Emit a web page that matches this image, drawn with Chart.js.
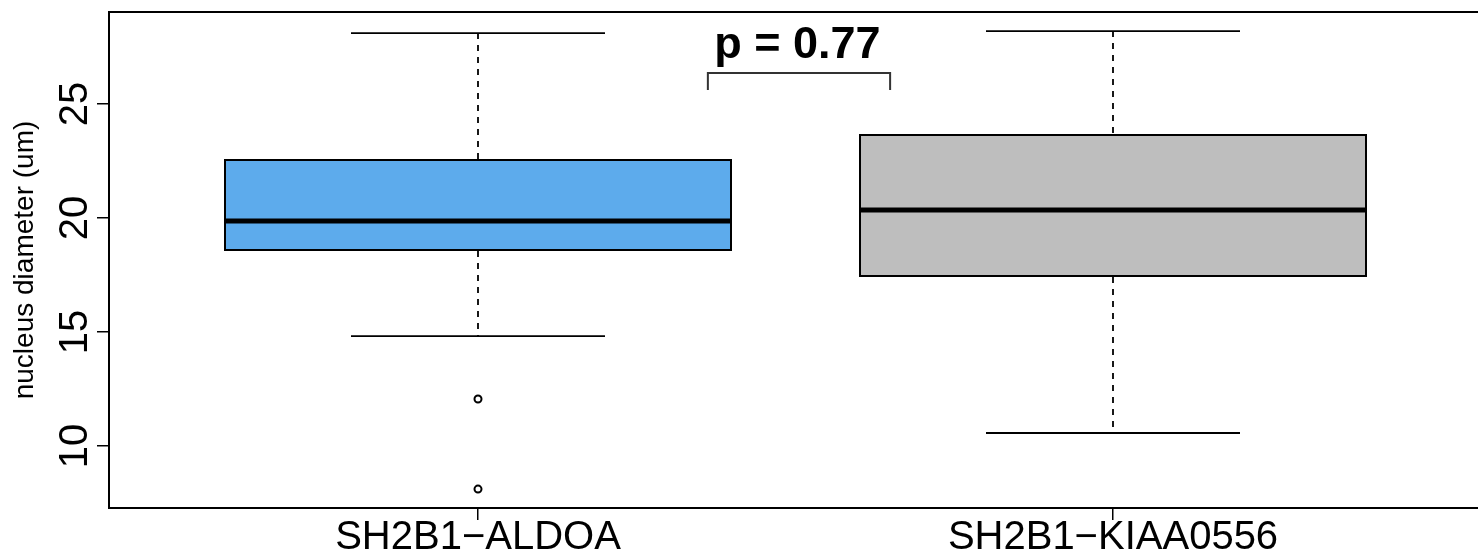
<!DOCTYPE html>
<html>
<head>
<meta charset="utf-8">
<script src="https://cdn.jsdelivr.net/npm/chart.js@4.4.1/dist/chart.umd.min.js"></script>
<style>
  html, body { margin: 0; padding: 0; overflow: hidden; background: #fff; }
  canvas { display: block; }
</style>
</head>
<body>
<canvas id="boxChart" width="1478" height="558"></canvas>
<script>
// groups and box statistics
const categories = ["SH2B1\u2212ALDOA", "SH2B1\u2212KIAA0556"];
const positions = [1, 2];
const whiskerLow = [14.82, 10.57];
const q1 = [18.55, 17.41];
const median = [19.87, 20.35];
const q3 = [22.59, 23.68];
const whiskerHigh = [28.11, 28.2];
const outlierGroup = [1, 1];
const outlierValues = [12.06, 8.11];
const boxColors = ["#5DABEC", "#BEBEBE"];

const yTicks = [10, 15, 20, 25];
const yTitle = "nucleus diameter (um)";

// significance bracket
const bracketX = [1.362, 1.649];
const bracketY = [25.61, 26.36];
const pLabel = "p = 0.77";
const pLabelPos = { x: 1.503, y: 27.02 };

const FONT = "'Liberation Sans', Arial, Helvetica, sans-serif";
const X_MIN = 0.4189, X_MAX = 2.5748;

// whisker segments (dashed) with a gap between the upper and lower part
const whiskerData = [];
const capData = [];
positions.forEach((p, i) => {
    whiskerData.push({ x: p, y: whiskerHigh[i] }, { x: p, y: q3[i] }, { x: p, y: null },
                     { x: p, y: q1[i] }, { x: p, y: whiskerLow[i] }, { x: p, y: null });
    capData.push({ x: p - 0.2, y: whiskerHigh[i] }, { x: p + 0.2, y: whiskerHigh[i] }, { x: p, y: null },
                 { x: p - 0.2, y: whiskerLow[i] }, { x: p + 0.2, y: whiskerLow[i] }, { x: p, y: null });
});
const medianData = [];
positions.forEach((p, i) => {
    medianData.push({ x: p - 0.4, y: median[i] }, { x: p + 0.4, y: median[i] }, { x: p, y: null });
});

// y title, y tick labels (rotated, like R) and the p value text
const labels = {
    id: "labels",
    afterDraw(chart) {
        const { ctx, scales, chartArea } = chart;
        ctx.save();
        ctx.fillStyle = "#000";

        ctx.font = "28px " + FONT;
        ctx.textAlign = "center";
        ctx.textBaseline = "middle";
        ctx.save();
        ctx.translate(25, (chartArea.top + chartArea.bottom) / 2);
        ctx.rotate(-Math.PI / 2);
        ctx.fillText(yTitle, 0, 0);
        ctx.restore();

        ctx.font = "40px " + FONT;
        ctx.textBaseline = "alphabetic";
        scales.y.ticks.forEach(t => {
            const py = scales.y.getPixelForValue(t.value);
            ctx.save();
            ctx.translate(87, py);
            ctx.rotate(-Math.PI / 2);
            ctx.fillText(String(t.value), 0, 0);
            ctx.restore();
        });

        ctx.font = "bold 45px " + FONT;
        ctx.fillText(pLabel, scales.x.getPixelForValue(pLabelPos.x), scales.y.getPixelForValue(pLabelPos.y));
        ctx.restore();
    }
};

const ctx = document.getElementById("boxChart").getContext("2d");
new Chart(ctx, {
    type: "bar",
    data: {
        datasets: [
            { type: "line", data: medianData, borderColor: "#000", borderWidth: 5, pointRadius: 0, order: 0 },
            {
                type: "scatter",
                data: outlierValues.map((v, i) => ({ x: outlierGroup[i], y: v })),
                pointRadius: 3.5,
                pointBorderWidth: 2,
                pointBorderColor: "#000",
                pointBackgroundColor: "#fff",
                order: 1
            },
            {
                type: "line",
                data: [
                    { x: bracketX[0], y: bracketY[0] }, { x: bracketX[0], y: bracketY[1] },
                    { x: bracketX[1], y: bracketY[1] }, { x: bracketX[1], y: bracketY[0] }
                ],
                borderColor: "#333",
                borderWidth: 2,
                pointRadius: 0,
                order: 2
            },
            {
                type: "bar",
                data: positions.map((p, i) => ({ x: p, y: [q1[i], q3[i]] })),
                backgroundColor: boxColors,
                borderColor: "#000",
                borderWidth: 2,
                borderSkipped: false,
                barPercentage: 0.8,
                categoryPercentage: 1,
                order: 3
            },
            { type: "line", data: capData, borderColor: "#000", borderWidth: 1.8, pointRadius: 0, order: 4 },
            {
                type: "line",
                data: whiskerData,
                borderColor: "#000",
                borderWidth: 1.8,
                borderDash: [6, 6],
                pointRadius: 0,
                order: 5
            }
        ]
    },
    options: {
        responsive: false,
        animation: false,
        layout: { autoPadding: false, padding: { top: 12, left: 0, right: 0, bottom: 0 } },
        plugins: {
            legend: { display: false },
            tooltip: { enabled: false }
        },
        scales: {
            x: {
                type: "linear",
                min: X_MIN,
                max: X_MAX,
                offset: false,
                afterBuildTicks: scale => { scale.ticks = positions.map(v => ({ value: v })); },
                afterFit: scale => { scale.height = 50; },
                ticks: {
                    color: "#000",
                    font: { family: FONT, size: 40 },
                    padding: -6,
                    maxRotation: 0,
                    autoSkip: false,
                    callback: (value, index) => categories[index]
                },
                grid: {
                    offset: false,
                    drawOnChartArea: false,
                    tickLength: 12,
                    tickColor: "#000",
                    lineWidth: 1.5
                },
                border: { display: true, color: "#000", width: 2 }
            },
            // top frame line only
            x2: {
                type: "linear",
                position: "top",
                min: X_MIN,
                max: X_MAX,
                offset: false,
                afterFit: scale => { scale.height = 0; },
                ticks: { display: false },
                grid: { display: false, drawTicks: false, tickLength: 0 },
                border: { display: true, color: "#000", width: 2 }
            },
            y: {
                min: 7.281,
                max: 29.035,
                afterBuildTicks: scale => { scale.ticks = yTicks.map(v => ({ value: v })); },
                afterFit: scale => { scale.width = 109; },
                ticks: { display: false },
                grid: {
                    drawOnChartArea: false,
                    tickLength: 12,
                    tickColor: "#000",
                    lineWidth: 1.5
                },
                border: { display: true, color: "#000", width: 2 }
            }
        }
    },
    plugins: [labels]
});
</script>
</body>
</html>
